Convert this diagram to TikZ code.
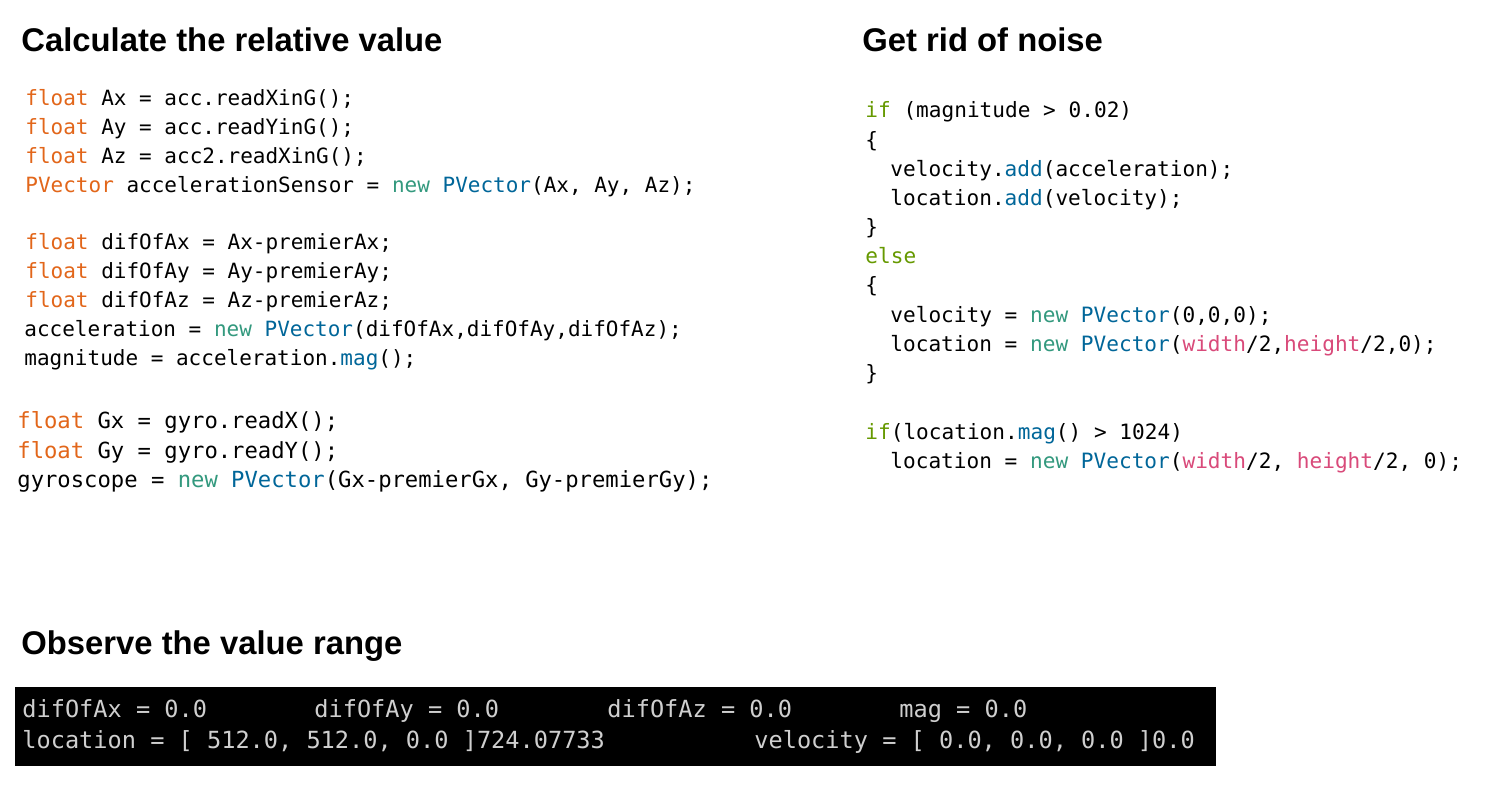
\documentclass[tikz,border=0pt]{standalone}
\usepackage{fontspec}
\setmainfont{Liberation Sans}
\newfontfamily\codefont{DejaVu Sans Mono}
\definecolor{kwo}{HTML}{E2661A}
\definecolor{kwg}{HTML}{33997E}
\definecolor{fnb}{HTML}{006699}
\definecolor{vpk}{HTML}{D94A7A}
\definecolor{ctl}{HTML}{669900}
\definecolor{con}{HTML}{CFCFCF}
\newcommand\ko[1]{\textcolor{kwo}{#1}}
\newcommand\kg[1]{\textcolor{kwg}{#1}}
\newcommand\fb[1]{\textcolor{fnb}{#1}}
\newcommand\vp[1]{\textcolor{vpk}{#1}}
\newcommand\ct[1]{\textcolor{ctl}{#1}}
\tikzset{
  code/.style={anchor=base west, inner sep=0pt, font=\codefont\fontsize{10.5pt}{12pt}\selectfont},
  rcode/.style={anchor=base west, inner sep=0pt, font=\codefont\fontsize{10.55pt}{12pt}\selectfont},
  gcode/.style={anchor=base west, inner sep=0pt, font=\codefont\fontsize{11.1pt}{13pt}\selectfont},
  head/.style={anchor=base west, inner sep=0pt, font=\fontsize{16.4pt}{19pt}\selectfont\bfseries},
  cons/.style={anchor=base west, inner sep=0pt, text=con, font=\codefont\fontsize{11.8pt}{14pt}\selectfont},
}
\begin{document}
\begin{tikzpicture}[x=0.5pt,y=-0.5pt]
\useasboundingbox[fill=white] (0,0) rectangle (1490,794);
% headings
\node[head] (h1) at (21,51) {Calculate the relative value};
\node[head] (h2) at (862,51) {Get rid of noise};
\node[head] (h3) at (21,654) {Observe the value range};
% left code block
\node[code] (l1) at (25,105) {\ko{float} Ax = acc.readXinG();};
\node[code] (l2) at (25,134) {\ko{float} Ay = acc.readYinG();};
\node[code] (l3) at (25,163) {\ko{float} Az = acc2.readXinG();};
\node[code] (l4) at (25,192) {\ko{PVector} accelerationSensor = \kg{new} \fb{PVector}(Ax, Ay, Az);};
\node[code] (l5) at (25,249) {\ko{float} difOfAx = Ax-premierAx;};
\node[code] (l6) at (25,278) {\ko{float} difOfAy = Ay-premierAy;};
\node[code] (l7) at (25,307) {\ko{float} difOfAz = Az-premierAz;};
\node[code] (l8) at (24,336) {acceleration = \kg{new} \fb{PVector}(difOfAx,difOfAy,difOfAz);};
\node[code] (l9) at (24,365) {magnitude = acceleration.\fb{mag}();};
\node[gcode] (l10) at (17,428.5) {\ko{float} Gx = gyro.readX();};
\node[gcode] (l11) at (17,458.5) {\ko{float} Gy = gyro.readY();};
\node[gcode] (l12) at (17,487.5) {gyroscope = \kg{new} \fb{PVector}(Gx-premierGx, Gy-premierGy);};
% right code block
\node[rcode] (r1) at (865,117.5) {\ct{if} (magnitude > 0.02)};
\node[rcode] (r2) at (865,147.5) {\{};
\node[rcode] (r3) at (890,176.5) {velocity.\fb{add}(acceleration);};
\node[rcode] (r4) at (890,205.5) {location.\fb{add}(velocity);};
\node[rcode] (r5) at (865,234.5) {\}};
\node[rcode] (r6) at (865,263.5) {\ct{else}};
\node[rcode] (r7) at (865,292.5) {\{};
\node[rcode] (r8) at (890,322.5) {velocity = \kg{new} \fb{PVector}(0,0,0);};
\node[rcode] (r9) at (890,351.5) {location = \kg{new} \fb{PVector}(\vp{width}/2,\vp{height}/2,0);};
\node[rcode] (r10) at (865,380.5) {\}};
\node[rcode] (r11) at (865,439.5) {\ct{if}(location.\fb{mag}() > 1024)};
\node[rcode] (r12) at (890,468.5) {location = \kg{new} \fb{PVector}(\vp{width}/2, \vp{height}/2, 0);};
% console
\fill[black] (15,687) rectangle (1216,766);
\node[cons] (c1) at (22,717) {difOfAx = 0.0};
\node[cons] (c2) at (314,717) {difOfAy = 0.0};
\node[cons] (c3) at (607,717) {difOfAz = 0.0};
\node[cons] (c4) at (899,717) {mag = 0.0};
\node[cons] (c5) at (22,748) {location = [ 512.0, 512.0, 0.0 ]724.07733};
\node[cons] (c6) at (754,748) {velocity = [ 0.0, 0.0, 0.0 ]0.0};
\end{tikzpicture}
\end{document}
